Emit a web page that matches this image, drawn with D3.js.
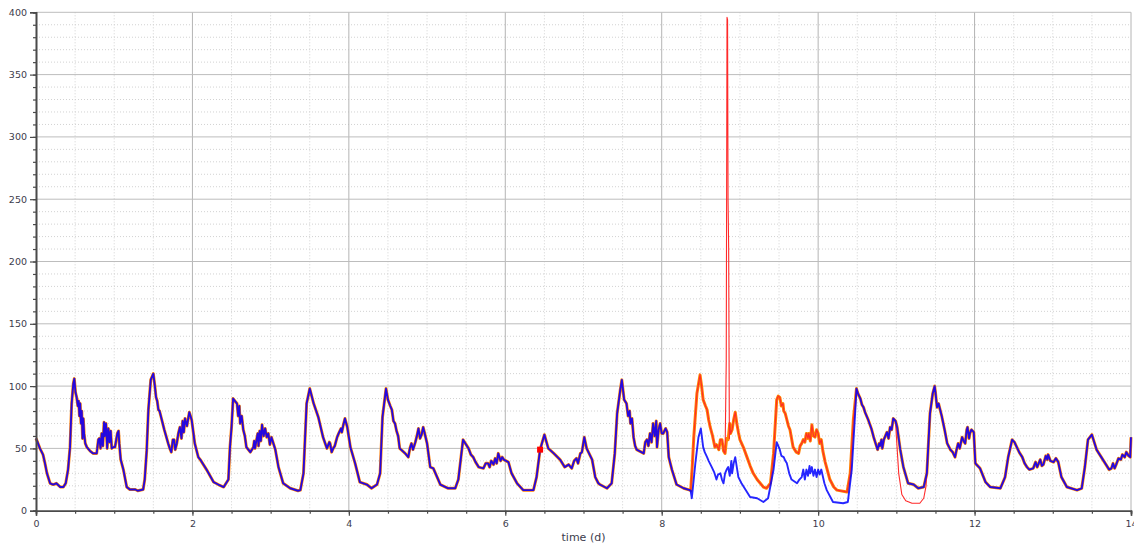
<!DOCTYPE html>
<html>
<head>
<meta charset="utf-8">
<script src="https://cdn.jsdelivr.net/npm/d3@7"></script>
<style>
  html, body { margin: 0; padding: 0; background: #fff; }
  svg { display: block; }
  .tick text { font-family: "DejaVu Sans", sans-serif; font-size: 9.5px; fill: #3c3c4c; }
</style>
</head>
<body>
<svg id="chart" width="1134" height="544"></svg>
<script>
// Flow trace shared by all three runs: [time (d), value]
const commonTrace = [
  [0.00,58],[0.02,55],[0.05,50],[0.09,45],[0.115,38],[0.14,30],[0.18,22],[0.22,21],[0.26,22],[0.31,19],
  [0.35,19],[0.38,22],[0.41,33],[0.435,51],[0.456,86],[0.477,102],[0.49,106],[0.505,95],[0.52,91],[0.535,84],
  [0.545,88],[0.555,76],[0.565,86],[0.575,70],[0.585,80],[0.595,58],[0.605,74],[0.615,62],[0.63,54],[0.65,51],
  [0.69,48],[0.73,46],[0.776,46],[0.797,57],[0.81,58],[0.825,50],[0.84,62],[0.855,52],[0.87,71],[0.88,60],
  [0.895,70],[0.91,50],[0.925,66],[0.94,55],[0.955,64],[0.968,50],[0.99,51],[1.01,51],[1.04,62],[1.055,64],
  [1.065,54],[1.083,41],[1.117,33],[1.16,19],[1.2,17],[1.27,17],[1.3,16],[1.37,17],[1.39,25],[1.415,48],
  [1.437,81],[1.467,105],[1.5,110],[1.52,100],[1.535,91],[1.55,88],[1.565,81],[1.58,80],[1.6,75],[1.64,65],
  [1.69,54],[1.71,50],[1.73,47],[1.75,57],[1.765,57],[1.78,49],[1.8,54],[1.82,62],[1.84,67],[1.86,58],
  [1.875,72],[1.89,63],[1.905,74],[1.93,68],[1.96,79],[1.99,73],[2.03,54],[2.075,43],[2.1,41],[2.18,33],
  [2.27,23],[2.33,21],[2.4,19],[2.46,25],[2.48,51],[2.5,67],[2.52,90],[2.545,88],[2.57,86],[2.585,76],
  [2.6,84],[2.61,70],[2.63,76],[2.65,65],[2.67,60],[2.69,51],[2.74,47],[2.78,51],[2.79,56],[2.80,50],
  [2.82,57],[2.835,62],[2.845,52],[2.86,64],[2.875,56],[2.89,69],[2.91,60],[2.93,66],[2.95,59],[2.97,62],
  [2.99,53],[3.01,59],[3.06,49],[3.1,35],[3.16,22],[3.25,18],[3.35,16],[3.38,16.5],[3.42,30],[3.46,86],
  [3.5,98],[3.55,86],[3.61,75],[3.67,59],[3.72,50],[3.75,55],[3.76,54],[3.78,47],[3.8,50],[3.82,52],
  [3.85,59],[3.87,62],[3.9,66],[3.91,63],[3.93,69],[3.95,74],[3.98,67],[4.02,51],[4.08,38],[4.14,23],
  [4.23,21],[4.29,18],[4.36,21],[4.4,30],[4.43,75],[4.475,98],[4.5,89],[4.53,84],[4.55,81],[4.57,72],
  [4.59,70],[4.61,64],[4.63,60],[4.65,50],[4.72,46],[4.76,43],[4.78,50],[4.8,54],[4.82,49],[4.85,55],
  [4.87,60],[4.89,66],[4.91,58],[4.93,61],[4.95,67],[4.97,62],[5.0,54],[5.04,35],[5.08,34],[5.17,21],
  [5.27,18],[5.36,18],[5.4,25],[5.46,57],[5.5,53],[5.53,50],[5.56,45],[5.59,43],[5.62,39],[5.66,35],
  [5.72,34],[5.75,38],[5.78,38],[5.8,35],[5.82,40],[5.85,37],[5.87,42],[5.89,38],[5.91,46],[5.94,40],
  [5.96,43],[5.98,41],[6.04,39],[6.08,30],[6.15,22],[6.23,16.5],[6.36,16.5],[6.4,27],[6.445,49],[6.5,61],
  [6.55,50],[6.62,46],[6.7,41],[6.76,35],[6.81,37],[6.85,34],[6.88,40],[6.91,42],[6.93,38],[6.96,46],
  [6.98,47],[7.01,59],[7.04,50],[7.11,41],[7.15,27],[7.19,22],[7.21,21],[7.3,18],[7.36,22],[7.4,46],
  [7.43,78],[7.47,97],[7.49,105],[7.52,89],[7.55,86],[7.57,76],[7.59,80],[7.6,70],[7.62,74],[7.64,59],
  [7.66,52],[7.68,49],[7.77,46],[7.79,55],[7.81,57],[7.83,52],[7.85,62],[7.87,55],[7.89,70],[7.91,60],
  [7.93,72],[7.94,51],[7.96,65],[7.98,70],[8.0,62],[8.02,62],[8.05,66],[8.07,63],[8.09,43],[8.13,33],
  [8.19,21],[8.28,18],[8.36,16.5],
  [10.49,98],[10.51,94],[10.54,90],[10.56,85],[10.58,83],[10.6,79],[10.64,73],[10.68,66],[10.71,59],[10.74,53],
  [10.76,49],[10.78,54],[10.79,52],[10.81,57],[10.82,50],[10.84,57],[10.86,60],[10.88,63],[10.9,58],[10.92,67],
  [10.94,65],[10.96,74],[10.99,72],[11.01,67],[11.05,49],[11.09,35],[11.15,22],[11.22,21],[11.28,18],[11.35,19],
  [11.39,30],[11.41,54],[11.43,78],[11.465,94],[11.49,100],[11.5,95],[11.52,83],[11.54,86],[11.56,81],[11.58,76],
  [11.6,70],[11.62,64],[11.65,54],[11.69,49],[11.72,47],[11.75,43],[11.77,49],[11.79,54],[11.81,50],[11.84,59],
  [11.86,56],[11.88,54],[11.9,65],[11.91,67],[11.93,58],[11.94,62],[11.96,65],[11.99,63],[12.01,38],[12.07,34],
  [12.14,23],[12.2,19],[12.33,18],[12.39,27],[12.43,43],[12.48,57],[12.51,55],[12.54,51],[12.57,47],[12.61,43],
  [12.64,38],[12.67,35],[12.7,33],[12.75,34],[12.78,39],[12.8,35],[12.82,38],[12.84,41],[12.86,36],[12.88,37],
  [12.91,44],[12.93,41],[12.94,45],[12.97,40],[13.01,39],[13.04,42],[13.07,39],[13.11,27],[13.18,19],[13.31,16.5],
  [13.37,18],[13.41,35],[13.45,57],[13.5,61],[13.53,55],[13.56,49],[13.59,46],[13.62,43],[13.65,40],[13.68,37],
  [13.72,33],[13.75,34],[13.77,38],[13.79,34],[13.81,37],[13.84,42],[13.87,41],[13.89,45],[13.92,43],[13.94,47],
  [13.97,44],[13.99,43],[14.0,59]
];

// Days 8.37 – 10.47 where the runs part ways
const orangeSection = [
  [8.37,16],[8.39,35],[8.41,59],[8.45,94],[8.49,109],[8.51,100],[8.53,89],[8.56,84],[8.58,81],[8.6,73],
  [8.62,67],[8.65,60],[8.68,51],[8.7,53],[8.73,49],[8.75,57],[8.77,57],[8.79,48],[8.81,46],[8.83,58],
  [8.85,57],[8.87,70],[8.88,62],[8.9,65],[8.92,73],[8.94,79],[8.96,70],[8.98,63],[9.0,57],[9.05,50],
  [9.09,43],[9.13,36],[9.17,30],[9.22,25],[9.26,22],[9.3,19],[9.34,18],[9.39,22],[9.43,46],[9.47,89],
  [9.49,92],[9.51,91],[9.53,84],[9.55,86],[9.56,80],[9.58,78],[9.6,73],[9.62,68],[9.64,65],[9.66,58],
  [9.68,51],[9.72,47],[9.75,46],[9.77,52],[9.79,54],[9.81,57],[9.83,55],[9.85,62],[9.87,58],[9.88,62],
  [9.9,56],[9.92,69],[9.94,60],[9.96,59],[9.98,65],[10.0,62],[10.02,54],[10.04,57],[10.06,48],[10.09,39],
  [10.15,25],[10.2,19],[10.24,16.5],[10.37,15],[10.41,30],[10.45,73]
];
const blueSection = [
  [8.37,16],[8.385,10],[8.43,38],[8.47,59],[8.5,66],[8.53,51],[8.55,47],[8.58,43],[8.6,40],[8.64,35],
  [8.67,31],[8.7,25],[8.72,29],[8.75,30],[8.77,25],[8.79,22],[8.81,30],[8.83,33],[8.85,35],[8.87,28],
  [8.89,40],[8.9,30],[8.92,38],[8.94,43],[8.96,35],[8.98,27],[9.02,22],[9.05,19],[9.13,11],[9.22,10],
  [9.3,7],[9.36,10],[9.43,33],[9.47,55],[9.49,52],[9.51,49],[9.53,44],[9.56,43],[9.58,40],[9.6,38],
  [9.63,30],[9.66,25],[9.73,22],[9.76,25],[9.79,27],[9.81,33],[9.83,25],[9.85,33],[9.87,28],[9.89,36],
  [9.9,30],[9.92,35],[9.94,28],[9.96,33],[9.98,27],[10.0,33],[10.02,29],[10.04,33],[10.08,22],[10.11,16.5],
  [10.19,7],[10.32,6],[10.38,7],[10.43,33],[10.47,75]
];
// Red run: short spike and a deeper trough
const redSpike = [[8.825,120],[8.835,396],[8.842,394],[8.848,250],[8.856,210],[8.865,58]];
const redTrough = [[11.0,60],[11.03,30],[11.07,13],[11.12,8],[11.2,6],[11.3,6],[11.35,10],[11.38,20]];
const markerPoint = [[6.445,49]];

const xTicks = [0, 2, 4, 6, 8, 10, 12, 14];
const yTicks = [0, 50, 100, 150, 200, 250, 300, 350, 400];

// Assemble the three runs
const byTime = (a, b) => a[0] - b[0];
const outside = (a, b) => p => p[0] < a || p[0] > b;
const orangeRun = commonTrace.concat(orangeSection).sort(byTime);
const blueRun = commonTrace.concat(blueSection).sort(byTime);
const redRun = orangeRun
  .filter(outside(8.811, 8.869))
  .filter(outside(10.995, 11.405))
  .concat(redSpike, redTrough)
  .sort(byTime);

const svg = d3.select("#chart");
const plotLeft = 36, plotRight = 1131, plotTop = 12.3, plotBottom = 510.7;
const x = d3.scaleLinear().domain([0, 14]).range([plotLeft, plotRight]);
const y = d3.scaleLinear().domain([0, 400]).range([plotBottom, plotTop]);

// Minor dotted grid
const grid = svg.append("g");
grid.selectAll("line.mx").data(d3.range(0, 14.01, 0.5).filter(v => v % 2 !== 0))
  .join("line").attr("class", "mx").attr("x1", d => x(d)).attr("x2", d => x(d)).attr("y1", plotTop).attr("y2", plotBottom)
  .attr("stroke", "#d2d2d2").attr("stroke-dasharray", "1,2");
grid.selectAll("line.my").data(d3.range(0, 401, 10).filter(v => v % 50 !== 0))
  .join("line").attr("class", "my").attr("x1", plotLeft).attr("x2", plotRight).attr("y1", d => y(d)).attr("y2", d => y(d))
  .attr("stroke", "#d2d2d2").attr("stroke-dasharray", "1,2");
// Major solid grid
grid.selectAll("line.gx").data(xTicks.slice(1))
  .join("line").attr("class", "gx").attr("x1", d => x(d)).attr("x2", d => x(d)).attr("y1", plotTop).attr("y2", plotBottom)
  .attr("stroke", "#b4b4b4");
grid.selectAll("line.gy").data(yTicks.slice(1))
  .join("line").attr("class", "gy").attr("x1", plotLeft).attr("x2", plotRight).attr("y1", d => y(d)).attr("y2", d => y(d))
  .attr("stroke", "#bdbdbd");

// Traces: wide orange, red core, slightly see-through blue on top
const line = d3.line().x(d => x(d[0])).y(d => y(d[1]));
const traces = svg.append("g").attr("fill", "none").attr("stroke-linejoin", "round");
traces.append("path").datum(orangeRun).attr("d", line).attr("stroke", "#ff8000").attr("stroke-width", 3);
traces.append("path").datum(redRun).attr("d", line).attr("stroke", "#ff2a2a").attr("stroke-width", 1.1);
traces.append("path").datum(blueRun).attr("d", line).attr("stroke", "#0000ff").attr("stroke-opacity", 0.85)
  .attr("stroke-width", 1.9);
svg.append("g").selectAll("rect").data(markerPoint).join("rect")
  .attr("x", d => x(d[0]) - 3).attr("y", d => y(d[1]) - 3).attr("width", 6).attr("height", 6)
  .attr("fill", "#ff0000");

// Axes
const axisColor = "#4a4a4a";
const yMinor = svg.append("g").attr("transform", `translate(${plotLeft},0)`)
  .call(d3.axisLeft(y).tickValues(d3.range(0, 401, 10)).tickSize(3).tickFormat(""));
const yMajor = svg.append("g").attr("transform", `translate(${plotLeft},0)`)
  .call(d3.axisLeft(y).tickValues(yTicks).tickSize(6).tickPadding(3));
const xMinor = svg.append("g").attr("transform", `translate(0,${plotBottom})`)
  .call(d3.axisBottom(x).tickValues(d3.range(0, 14.01, 0.5)).tickSize(3).tickFormat(""));
const xMajor = svg.append("g").attr("transform", `translate(0,${plotBottom})`)
  .call(d3.axisBottom(x).tickValues(xTicks).tickSize(5).tickPadding(5));
[yMinor, yMajor, xMinor, xMajor].forEach(g => {
  g.selectAll("path.domain").attr("stroke", axisColor).attr("stroke-width", 1.6);
  g.selectAll(".tick line").attr("stroke", axisColor).attr("stroke-width", 1.2);
});

svg.append("text").attr("x", (plotLeft + plotRight) / 2).attr("y", 541)
  .attr("text-anchor", "middle").attr("font-family", "DejaVu Sans, sans-serif").attr("font-size", 11)
  .attr("fill", "#3c3c4c").text("time (d)");
</script>
</body>
</html>
